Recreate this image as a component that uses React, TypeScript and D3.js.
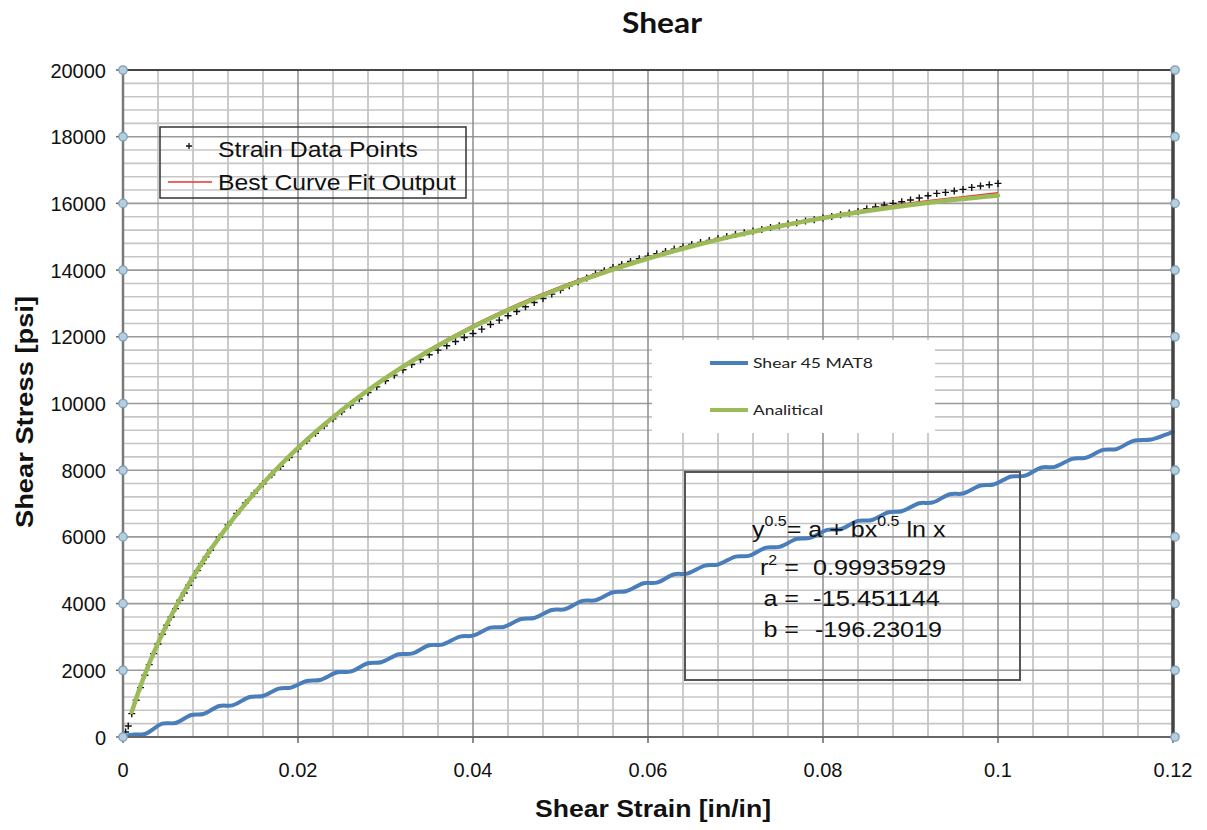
import React from "react";
import * as d3 from "d3";

// ---------- data ----------
const xTicks = [0, 0.02, 0.04, 0.06, 0.08, 0.1, 0.12];
const xTickLabels = ["0", "0.02", "0.04", "0.06", "0.08", "0.1", "0.12"];
const yTicks = [0, 2000, 4000, 6000, 8000, 10000, 12000, 14000, 16000, 18000, 20000];

// Strain data points (black +)
const dataStrain = [
  0, 0.0003, 0.0006, 0.001, 0.0015, 0.002, 0.0025, 0.003, 0.0035, 0.004, 0.0045, 0.005, 0.0055, 0.006,
  0.0065, 0.007, 0.0075, 0.008, 0.0085, 0.009, 0.0095, 0.01, 0.011, 0.012, 0.013, 0.014, 0.015, 0.016, 0.017,
  0.018, 0.019, 0.02, 0.021, 0.022, 0.023, 0.024, 0.025, 0.026, 0.027, 0.028, 0.029, 0.03, 0.031, 0.032,
  0.033, 0.034, 0.035, 0.036, 0.037, 0.038, 0.039, 0.04, 0.041, 0.042, 0.043, 0.044, 0.045, 0.046, 0.047,
  0.048, 0.049, 0.05, 0.051, 0.052, 0.053, 0.054, 0.055, 0.056, 0.057, 0.058, 0.059, 0.06, 0.061, 0.062,
  0.063, 0.064, 0.065, 0.066, 0.067, 0.068, 0.069, 0.07, 0.071, 0.072, 0.073, 0.074, 0.075, 0.076, 0.077,
  0.078, 0.079, 0.08, 0.081, 0.082, 0.083, 0.084, 0.085, 0.086, 0.087, 0.088, 0.089, 0.09, 0.091, 0.092,
  0.093, 0.094, 0.095, 0.096, 0.097, 0.098, 0.099, 0.1,
];
const dataStress = [
  0, 150, 330, 700, 1100, 1480, 1850, 2170, 2500, 2790, 3080, 3350, 3600, 3850,
  4100, 4320, 4550, 4770, 4990, 5200, 5400, 5600, 5990, 6360, 6700, 7020, 7310, 7590, 7860,
  8120, 8380, 8640, 8880, 9110, 9330, 9540, 9750, 9950, 10140, 10330, 10500, 10680, 10850, 11010,
  11170, 11320, 11460, 11600, 11730, 11860, 11980, 12100, 12230, 12370, 12500, 12630, 12760, 12900, 13030,
  13150, 13280, 13400, 13530, 13650, 13760, 13880, 13980, 14080, 14170, 14260, 14340, 14420, 14490, 14560,
  14630, 14700, 14770, 14830, 14890, 14950, 15010, 15070, 15120, 15170, 15220, 15280, 15330, 15380, 15420,
  15470, 15510, 15560, 15610, 15660, 15710, 15760, 15840, 15890, 15950, 16000, 16050, 16100, 16160, 16230,
  16300, 16330, 16370, 16420, 16480, 16520, 16560, 16600,
];

// Best curve fit output (red) and Analitical (green)
const fitStrain = [
  0.001, 0.002, 0.003, 0.004, 0.005, 0.006, 0.007, 0.008, 0.009, 0.01, 0.012, 0.014, 0.016, 0.018, 0.02,
  0.025, 0.03, 0.035, 0.04, 0.045, 0.05, 0.055, 0.06, 0.065, 0.07, 0.075, 0.08, 0.085, 0.09, 0.095, 0.1,
];
const fitStress = [
  790, 1570, 2250, 2860, 3410, 3920, 4400, 4840, 5260, 5650, 6380, 7040, 7640, 8200, 8710,
  9840, 10800, 11630, 12350, 12970, 13510, 13980, 14390, 14750, 15070, 15350, 15600, 15820, 16010, 16170, 16320,
];
const analyticalStress = [
  752, 1528, 2208, 2817, 3372, 3883, 4358, 4802, 5219, 5613, 6340, 6999, 7602, 8157, 8670,
  9801, 10760, 11582, 12294, 12914, 13456, 13931, 14347, 14714, 15034, 15314, 15558, 15770, 15952, 16108, 16238,
];

// Shear 45 MAT8 (blue)
const mat8Strain = [
  0, 0.001, 0.0025, 0.0045, 0.006, 0.0078, 0.0092, 0.011, 0.0125, 0.0145, 0.016, 0.0178, 0.0192, 0.021,
  0.0225, 0.0245, 0.026, 0.028, 0.0295, 0.0315, 0.033, 0.035, 0.0365, 0.0385, 0.04, 0.042, 0.0435, 0.0455,
  0.047, 0.049, 0.0505, 0.0525, 0.054, 0.056, 0.0575, 0.0595, 0.061, 0.063, 0.0645, 0.0665, 0.068, 0.07,
  0.0715, 0.0735, 0.075, 0.077, 0.0785, 0.0805, 0.082, 0.084, 0.0855, 0.0875, 0.089, 0.091, 0.0925, 0.0945,
  0.096, 0.098, 0.0995, 0.1015, 0.103, 0.105, 0.1065, 0.1085, 0.11, 0.112, 0.1135, 0.1155, 0.1175, 0.119, 0.12,
];
const mat8Stress = [
  0, 70, 90, 400, 420, 660, 690, 930, 950, 1200, 1230, 1450, 1480, 1680,
  1710, 1940, 1960, 2210, 2240, 2480, 2500, 2750, 2770, 3010, 3040, 3280, 3300, 3540,
  3570, 3810, 3830, 4080, 4100, 4340, 4370, 4610, 4630, 4880, 4900, 5140, 5170, 5410,
  5430, 5680, 5700, 5940, 5970, 6210, 6230, 6480, 6500, 6740, 6770, 7010, 7030, 7280,
  7300, 7540, 7570, 7810, 7830, 8080, 8100, 8340, 8370, 8610, 8630, 8880, 8920, 9050, 9150,
];

const eqText = { r2: "0.99935929", a: "-15.451144", b: "-196.23019" };

// ---------- layout ----------
const W = 1207;
const H = 830;
const x = d3.scaleLinear().domain([0, 0.12]).range([123, 1173]);
const y = d3.scaleLinear().domain([0, 20000]).range([737, 70]);

const ARIAL = "'Liberation Sans', Arial, sans-serif";
const CALIBRI = "Lato, 'Open Sans', sans-serif";

export default function App() {
  const minorY = d3.range(0, 20001, 400).filter((v) => v % 2000 !== 0);
  const minorX = d3.range(0, 31).map((i) => i * 0.004).filter((_, i) => i % 5 !== 0);

  const pts = (xs: number[], ys: number[]) => xs.map((v, i) => [v, ys[i]] as [number, number]);
  const mkLine = (curve: d3.CurveFactory) =>
    d3
      .line<[number, number]>()
      .x((d) => x(d[0]))
      .y((d) => y(d[1]))
      .curve(curve);
  const bluePath = mkLine(d3.curveCatmullRom.alpha(0.5))(pts(mat8Strain, mat8Stress)) || "";
  const redPath = mkLine(d3.curveMonotoneX)(pts(fitStrain, fitStress)) || "";
  const greenPath = mkLine(d3.curveMonotoneX)(pts(fitStrain, analyticalStress)) || "";

  const stretch = (cx: number, s: number) => `translate(${cx},0) scale(${s},1) translate(${-cx},0)`;

  return (
    <svg width={W} height={H} style={{ position: "absolute", left: 0, top: 0, background: "#fff" }}>
      <rect x={0} y={0} width={W} height={H} fill="#fff" />
      {/* grid */}
      {minorY.map((v) => (
        <line key={"my" + v} x1={x(0)} x2={x(0.12)} y1={y(v)} y2={y(v)} stroke="#c6c6c6" strokeWidth={1.6} />
      ))}
      {minorX.map((v, i) => (
        <line key={"mx" + i} x1={x(v)} x2={x(v)} y1={y(0)} y2={y(20000)} stroke="#c6c6c6" strokeWidth={1.8} />
      ))}
      {yTicks.map((v) => (
        <line key={"Y" + v} x1={x(0)} x2={x(0.12)} y1={y(v)} y2={y(v)} stroke="#9a9a9a" strokeWidth={1.6} />
      ))}
      {xTicks.map((v) => (
        <line key={"X" + v} x1={x(v)} x2={x(v)} y1={y(0)} y2={y(20000)} stroke="#8c8c8c" strokeWidth={1.5} />
      ))}

      {/* white legend box for Excel series */}
      <rect x={652} y={340} width={283} height={93} fill="#fff" />
      <line x1={710} x2={748} y1={363} y2={363} stroke="#4A7EBB" strokeWidth={4} />
      <text x={753} y={368} fontFamily={CALIBRI} fontSize={14} fill="#222" textLength={120} lengthAdjust="spacingAndGlyphs">
        Shear 45  MAT8
      </text>
      <line x1={710} x2={748} y1={410} y2={410} stroke="#9BBB59" strokeWidth={4} />
      <text x={753} y={415} fontFamily={CALIBRI} fontSize={14} fill="#222" textLength={70} lengthAdjust="spacingAndGlyphs">
        Analitical
      </text>

      {/* series */}
      <path d={bluePath} fill="none" stroke="#4A7EBB" strokeWidth={4} strokeLinejoin="round" strokeLinecap="round" />
      {dataStrain.map((v, i) => (
        <path
          key={"p" + i}
          d={`M${x(v) - 3.5},${y(dataStress[i])}h7M${x(v)},${y(dataStress[i]) - 3.5}v7`}
          stroke="#111"
          strokeWidth={1.4}
        />
      ))}
      <path d={redPath} fill="none" stroke="#e8332a" strokeWidth={1.5} />
      <path d={greenPath} fill="none" stroke="#9BBB59" strokeWidth={4.5} strokeLinecap="round" />

      {/* axes */}
      <line x1={x(0)} x2={x(0.12)} y1={y(20000)} y2={y(20000)} stroke="#222" strokeWidth={1.6} />
      <line x1={x(0)} x2={x(0)} y1={y(0)} y2={y(20000)} stroke="#7a7a7a" strokeWidth={2.5} />
      <line x1={x(0)} x2={x(0.12)} y1={y(0)} y2={y(0)} stroke="#666" strokeWidth={2} />
      <line x1={x(0.12)} x2={x(0.12)} y1={y(0)} y2={y(20000)} stroke="#444" strokeWidth={3.5} />
      {xTicks.map((v) => (
        <line key={"xt" + v} x1={x(v)} x2={x(v)} y1={y(0)} y2={y(0) + 6} stroke="#666" strokeWidth={1.5} />
      ))}
      {yTicks.map((v) => (
        <line key={"yt" + v} x1={x(0) - 7} x2={x(0)} y1={y(v)} y2={y(v)} stroke="#666" strokeWidth={1.5} />
      ))}
      {yTicks.map((v) => (
        <circle key={"cl" + v} cx={x(0)} cy={y(v)} r={4.2} fill="#b6cfe0" stroke="#7f9fb8" strokeWidth={1.3} />
      ))}
      {yTicks.map((v) => (
        <circle key={"cr" + v} cx={x(0.12) + 2} cy={y(v)} r={4.2} fill="#b6cfe0" stroke="#7f9fb8" strokeWidth={1.3} />
      ))}

      {/* tick labels */}
      {yTicks.map((v) => (
        <text key={"yl" + v} x={106} y={y(v) + 7.5} textAnchor="end" fontFamily={ARIAL} fontSize={20} fill="#111">
          {v}
        </text>
      ))}
      {xTicks.map((v, i) => (
        <text key={"xl" + v} x={x(v)} y={777} textAnchor="middle" fontFamily={ARIAL} fontSize={20} fill="#111">
          {xTickLabels[i]}
        </text>
      ))}

      {/* TableCurve legend */}
      <rect x={160} y={127} width={306} height={71} fill="none" stroke="#333" strokeWidth={1.5} />
      <path d="M186,146h6M189,143v6" stroke="#111" strokeWidth={1.3} />
      <text x={218} y={157} fontFamily={ARIAL} fontSize={22} fill="#111" textLength={200} lengthAdjust="spacingAndGlyphs">
        Strain Data Points
      </text>
      <line x1={168} x2={212} y1={182} y2={182} stroke="#e8332a" strokeWidth={1.3} />
      <text x={218} y={190} fontFamily={ARIAL} fontSize={22} fill="#111" textLength={238} lengthAdjust="spacingAndGlyphs">
        Best Curve Fit Output
      </text>

      {/* equation box */}
      <rect x={685} y={472} width={335} height={208} fill="none" stroke="#555" strokeWidth={2} />
      <g transform={stretch(752, 1.14)} fontFamily={ARIAL} fill="#111">
        <text x={752} y={537} fontSize={22}>
          y<tspan fontSize={14} dy={-11}>0.5</tspan>
          <tspan dy={11}>=  a + bx</tspan>
          <tspan fontSize={14} dy={-11}>0.5</tspan>
          <tspan dy={11}> ln x</tspan>
        </text>
      </g>
      <g transform={stretch(760, 1.14)} fontFamily={ARIAL} fill="#111">
        <text x={760} y={575} fontSize={22}>
          r<tspan fontSize={14} dy={-10}>2</tspan>
          <tspan dy={10}> =</tspan>
        </text>
        <text x={763} y={606} fontSize={22}>a =</text>
        <text x={763} y={637} fontSize={22}>b =</text>
      </g>
      <text x={813} y={575} fontFamily={ARIAL} fontSize={22} fill="#111" textLength={133} lengthAdjust="spacingAndGlyphs">
        {eqText.r2}
      </text>
      <text x={813} y={606} fontFamily={ARIAL} fontSize={22} fill="#111" textLength={127} lengthAdjust="spacingAndGlyphs">
        {eqText.a}
      </text>
      <text x={815} y={637} fontFamily={ARIAL} fontSize={22} fill="#111" textLength={127} lengthAdjust="spacingAndGlyphs">
        {eqText.b}
      </text>

      {/* titles */}
      <text x={662} y={33} textAnchor="middle" fontFamily={CALIBRI} fontWeight="bold" fontSize={29} fill="#111" textLength={80} lengthAdjust="spacingAndGlyphs">
        Shear
      </text>
      <text x={653} y={817} textAnchor="middle" fontFamily={ARIAL} fontWeight="bold" fontSize={23} fill="#111" textLength={236} lengthAdjust="spacingAndGlyphs">
        Shear Strain [in/in]
      </text>
      <text transform="translate(33,412) rotate(-90)" textAnchor="middle" fontFamily={ARIAL} fontWeight="bold" fontSize={23} fill="#111" textLength={232} lengthAdjust="spacingAndGlyphs">
        Shear Stress [psi]
      </text>
    </svg>
  );
}
